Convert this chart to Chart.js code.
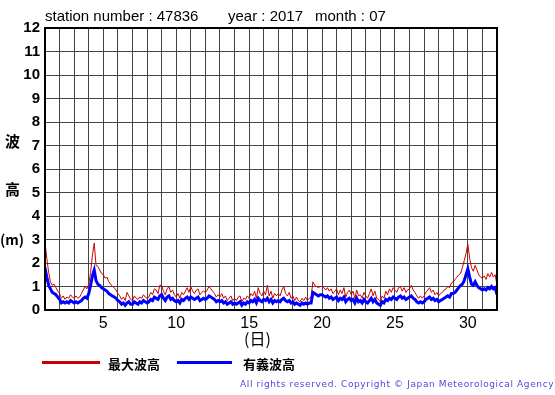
<!DOCTYPE html>
<html>
<head>
<meta charset="utf-8">
<script src="https://cdn.jsdelivr.net/npm/chart.js@4.4.0/dist/chart.umd.min.js"></script>
<style>
body { margin: 0; background: #fff; font-family: "Liberation Sans", Arial, sans-serif; }
#wrap { position: relative; width: 555px; height: 395px; }
canvas { position: absolute; left: 0; top: 0; }
.t { position: absolute; white-space: nowrap; color: #000; }
.jp { font-family: "Noto Sans CJK JP", sans-serif; font-weight: bold; }
</style>
</head>
<body>
<div id="wrap">
  <canvas id="grafico" width="555" height="395"></canvas>
  <div class="t" style="left:45px;top:7px;font-size:15px;">station number : 47836</div>
  <div class="t" style="left:228px;top:7px;font-size:15px;">year : 2017</div>
  <div class="t" style="left:315px;top:7px;font-size:15px;">month : 07</div>
  <div class="t jp" style="left:5px;top:130px;font-size:15px;">波</div>
  <div class="t jp" style="left:5px;top:178px;font-size:15px;">高</div>
  <div class="t jp" style="left:0px;top:229px;font-size:14px;">(m)</div>
  <div class="t jp" style="left:244px;top:326px;font-size:16px;font-weight:normal;">(日)</div>
  <div style="position:absolute;left:42px;top:361px;width:58px;height:3px;background:#cc0000;"></div>
  <div class="t jp" style="left:108px;top:354px;font-size:13px;">最大波高</div>
  <div style="position:absolute;left:177px;top:361px;width:55px;height:3px;background:#0000ff;"></div>
  <div class="t jp" style="left:243px;top:354px;font-size:13px;">有義波高</div>
  <div class="t" style="left:240px;top:379px;font-size:9px;letter-spacing:0.62px;color:#4a4ae0;font-family:'DejaVu Sans',sans-serif;">All rights reserved. Copyright © Japan Meteorological Agency</div>
</div>
<script>
// leituras a cada 3 horas, do dia 1 00h ate o dia 32 00h
var passoHoras = 3;

// 最大波高 (m)
var maxWave = [
  2.85, 2.20, 1.60, 1.20, 1.05, 1.10, 0.95, 0.80,
  0.70, 0.50, 0.60, 0.45, 0.55, 0.50, 0.65, 0.55,
  0.50, 0.60, 0.50, 0.55, 0.70, 0.85, 1.00, 0.90,
  1.10, 1.60, 2.30, 2.85, 1.90, 1.85, 1.70, 1.55,
  1.50, 1.35, 1.40, 1.20, 1.10, 1.00, 0.95, 0.85,
  0.70, 0.60, 0.45, 0.55, 0.40, 0.75, 0.60, 0.45,
  0.40, 0.60, 0.50, 0.45, 0.55, 0.50, 0.65, 0.55,
  0.50, 0.55, 0.75, 0.65, 0.90, 0.85, 0.70, 1.05,
  1.05, 0.80, 0.65, 0.90, 1.00, 0.75, 0.85, 0.65,
  0.55, 0.70, 0.50, 0.75, 0.65, 0.80, 0.95, 0.75,
  1.00, 0.80, 0.70, 0.85, 0.90, 0.65, 0.75, 0.80,
  0.75, 0.85, 1.00, 0.90, 0.80, 0.70, 0.55, 0.65,
  0.55, 0.70, 0.50, 0.60, 0.40, 0.50, 0.60, 0.40,
  0.50, 0.40, 0.55, 0.60, 0.35, 0.50, 0.45, 0.60,
  0.50, 0.70, 0.60, 0.80, 0.50, 0.95, 0.70, 0.60,
  0.80, 0.65, 1.05, 0.60, 0.80, 0.50, 0.70, 0.60,
  0.70, 0.60, 0.85, 1.00, 0.70, 0.60, 0.75, 0.50,
  0.60, 0.40, 0.55, 0.40, 0.35, 0.50, 0.40, 0.55,
  0.40, 0.50, 0.55, 1.20, 1.05, 1.00, 0.95, 1.00,
  1.00, 0.95, 0.85, 0.95, 0.80, 0.90, 0.70, 0.80,
  0.90, 0.65, 0.85, 0.70, 0.95, 0.55, 0.75, 0.85,
  0.65, 0.80, 0.50, 0.85, 0.60, 0.65, 0.50, 0.75,
  0.60, 0.50, 0.70, 0.90, 0.60, 0.80, 0.50, 0.45,
  0.35, 0.60, 0.50, 0.80, 0.65, 0.90, 0.75, 0.95,
  0.85, 0.75, 0.95, 1.00, 0.80, 0.95, 0.75, 0.85,
  0.90, 1.05, 0.85, 0.75, 0.60, 0.50, 0.60, 0.50,
  0.60, 0.75, 0.85, 0.95, 0.75, 0.85, 0.65, 0.75,
  0.60, 0.70, 0.75, 0.85, 0.90, 1.00, 0.95, 1.15,
  1.20, 1.30, 1.40, 1.50, 1.55, 1.80, 2.10, 2.40,
  2.80, 2.20, 1.80, 1.65, 1.90, 1.70, 1.50, 1.40,
  1.35, 1.45, 1.30, 1.55, 1.40, 1.60, 1.40, 1.50,
  1.05
];

// 有義波高 (m)
var sigWave = [
  1.80, 1.40, 1.05, 0.90, 0.75, 0.70, 0.65, 0.55,
  0.45, 0.30, 0.35, 0.30, 0.35, 0.30, 0.40, 0.35,
  0.30, 0.35, 0.30, 0.35, 0.40, 0.50, 0.55, 0.50,
  0.70, 1.05, 1.45, 1.70, 1.25, 1.10, 1.05, 0.95,
  0.90, 0.85, 0.80, 0.70, 0.65, 0.60, 0.55, 0.50,
  0.40, 0.35, 0.25, 0.30, 0.20, 0.30, 0.35, 0.25,
  0.25, 0.35, 0.30, 0.25, 0.35, 0.30, 0.40, 0.35,
  0.30, 0.35, 0.45, 0.40, 0.55, 0.50, 0.45, 0.60,
  0.65, 0.50, 0.40, 0.55, 0.60, 0.45, 0.50, 0.40,
  0.35, 0.40, 0.30, 0.45, 0.40, 0.50, 0.55, 0.45,
  0.55, 0.50, 0.45, 0.50, 0.55, 0.40, 0.45, 0.50,
  0.45, 0.50, 0.60, 0.55, 0.50, 0.45, 0.35, 0.40,
  0.35, 0.40, 0.30, 0.35, 0.25, 0.30, 0.35, 0.25,
  0.30, 0.25, 0.30, 0.35, 0.20, 0.30, 0.25, 0.35,
  0.30, 0.40, 0.35, 0.45, 0.30, 0.50, 0.40, 0.35,
  0.45, 0.40, 0.50, 0.35, 0.45, 0.30, 0.40, 0.35,
  0.40, 0.35, 0.45, 0.50, 0.40, 0.35, 0.40, 0.30,
  0.35, 0.25, 0.30, 0.25, 0.20, 0.30, 0.25, 0.30,
  0.25, 0.30, 0.30, 0.75, 0.70, 0.65, 0.60, 0.65,
  0.65, 0.60, 0.55, 0.60, 0.50, 0.55, 0.45, 0.50,
  0.55, 0.40, 0.50, 0.45, 0.55, 0.35, 0.45, 0.50,
  0.40, 0.45, 0.30, 0.50, 0.35, 0.40, 0.30, 0.45,
  0.35, 0.30, 0.40, 0.50, 0.35, 0.45, 0.30, 0.25,
  0.20, 0.35, 0.30, 0.45, 0.40, 0.50, 0.45, 0.55,
  0.50, 0.45, 0.55, 0.60, 0.50, 0.55, 0.45, 0.50,
  0.55, 0.60, 0.50, 0.45, 0.35, 0.30, 0.35, 0.30,
  0.35, 0.45, 0.50, 0.55, 0.45, 0.50, 0.40, 0.45,
  0.35, 0.40, 0.45, 0.50, 0.55, 0.60, 0.55, 0.70,
  0.70, 0.75, 0.85, 0.95, 1.05, 1.10, 1.25, 1.50,
  1.75, 1.40, 1.10, 1.05, 1.20, 1.05, 0.95, 0.90,
  0.85, 0.90, 0.85, 0.95, 0.90, 1.00, 0.90, 0.95,
  0.65
];

var diaTicks = [5, 10, 15, 20, 25, 30];

function montarPontos(valores) {
    var pontos = [];
    for (var n = 0; n < valores.length; n++) {
        pontos.push({ x: 1 + n * passoHoras / 24, y: valores[n] });
    }
    return pontos;
}

// moldura preta em volta da area do grafico
var moldura = {
    id: "moldura",
    afterDraw: function(chart) {
        var a = chart.chartArea, c = chart.ctx;
        c.save();
        c.strokeStyle = "#000";
        c.lineWidth = 2;
        c.strokeRect(a.left, a.top, a.right - a.left, a.bottom - a.top);
        c.restore();
    }
};

var ctx = document.getElementById("grafico").getContext("2d");
var myChart = new Chart(ctx, {
    type: "line",
    data: {
        datasets: [{
            label: "最大波高",
            data: montarPontos(maxWave),
            borderColor: "#cc0000",
            borderWidth: 1,
            pointRadius: 0,
            tension: 0,
            order: 1
        }, {
            label: "有義波高",
            data: montarPontos(sigWave),
            borderColor: "#0000ff",
            borderWidth: 3,
            pointRadius: 0,
            tension: 0,
            order: 0
        }]
    },
    options: {
        responsive: false,
        animation: false,
        layout: { padding: { top: 28, right: 58, left: 0, bottom: 0 } },
        plugins: { legend: { display: false }, tooltip: { enabled: false } },
        scales: {
            x: {
                type: "linear",
                min: 1,
                max: 32,
                afterFit: function(scale) { scale.height = 85; },
                afterBuildTicks: function(scale) {
                    var t = [];
                    for (var d = 1; d <= 32; d++) t.push({ value: d });
                    scale.ticks = t;
                },
                grid: { color: "#444", lineWidth: 1, drawTicks: false },
                border: { display: false },
                ticks: {
                    autoSkip: false,
                    maxRotation: 0,
                    padding: 4,
                    color: "#000",
                    font: { family: "Liberation Sans", size: 16 },
                    callback: function(v) { return diaTicks.indexOf(v) >= 0 ? String(v) : ""; }
                }
            },
            y: {
                min: 0,
                max: 12,
                afterFit: function(scale) { scale.width = 45; },
                grid: { color: "#444", lineWidth: 1, drawTicks: false },
                border: { display: false },
                ticks: {
                    stepSize: 1,
                    padding: 5,
                    color: "#000",
                    font: { family: "Liberation Sans", size: 15, weight: "bold" }
                }
            }
        }
    },
    plugins: [moldura]
});
</script>
</body>
</html>
